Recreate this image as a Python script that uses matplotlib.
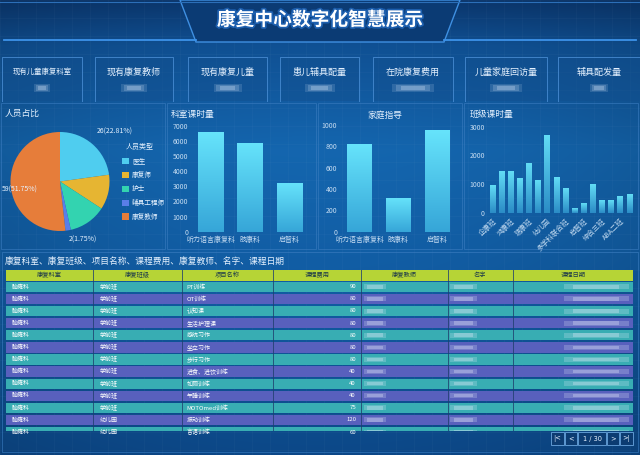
import numpy as np
import matplotlib
matplotlib.use("Agg")
import matplotlib.pyplot as plt
import matplotlib.patheffects as pe
from matplotlib.patches import Rectangle, Polygon
from matplotlib.colors import LinearSegmentedColormap, to_rgb

plt.rcParams['font.family'] = ['Noto Sans CJK SC', 'DejaVu Sans']

W, H = 640, 455

title = "康复中心数字化智慧展示"
card_labels = ["现有儿童康复科室", "现有康复教师", "现有康复儿童", "患儿辅具配量",
               "在院康复费用", "儿童家庭回访量", "辅具配发量"]

staff_types = ["医生", "康复师", "护士", "辅具工程师", "康复教师"]
staff_counts = [26, 13, 14, 2, 59]

dept_names = ["听力语言康复科", "肢康科", "启智科"]
dept_hours = [6580, 5900, 3250]
family_guidance = [820, 320, 950]

class_names = ["企康班", "企康二班", "鸿康班", "鸿康二班", "瑞康班", "瑞康二班", "幼儿园", "幼儿二班",
               "多学科联合班", "启智一班", "启智班", "综合二班", "综合三班", "ABA一班", "ABA二班", "ABA三班"]
class_hours = [950, 1440, 1460, 1210, 1720, 1130, 2710, 1250, 850, 150, 330, 1010, 450, 450, 570, 650]

table_title = "康复科室、康复班级、项目名称、课程费用、康复教师、名字、课程日期"
table_columns = ["康复科室", "康复班级", "项目名称", "课程费用", "康复教师", "名字", "课程日期"]
row_depts = ["脑瘫科"] * 13
row_classes = ["学前班"] * 11 + ["幼儿园"] * 2
row_items = ["PT训练", "OT训练", "认知课", "生活护理课", "感统习作", "坐立习作", "步行习作",
             "进食、进饮训练", "如厕训练", "午睡训练", "MOTOmed训练", "振动训练", "言语训练"]
row_fees = [90, 80, 80, 80, 80, 80, 80, 40, 40, 40, 75, 120, 60]
page_text = "1 / 30"

TXT = '#e6f2ff'
TICK = '#c5dcf2'


def px_rect(x0, y0, x1, y1):
    return [x0 / W, 1 - y1 / H, (x1 - x0) / W, (y1 - y0) / H]


def gradient_bars(ax, bars, top, bottom):
    grad = np.linspace(0, 1, 64).reshape(-1, 1)
    cmap = LinearSegmentedColormap.from_list('g', [bottom, top])
    for b in bars:
        x, y, w, h = b.get_x(), b.get_y(), b.get_width(), b.get_height()
        b.set_facecolor('none')
        b.set_edgecolor('none')
        im = ax.imshow(grad, extent=(x, x + w, y, y + h), origin='lower',
                       cmap=cmap, aspect='auto', zorder=2)
        im.set_clip_path(b)


def style_ax(ax):
    ax.patch.set_visible(False)
    for s in ax.spines.values():
        s.set_visible(False)
    ax.tick_params(colors=TICK, labelsize=5, length=0, pad=2)
    ax.tick_params(axis='x', pad=3)


fig = plt.figure(figsize=(W / 100, H / 100), dpi=100)

# background
bg = fig.add_axes([0, 0, 1, 1])
bg.set_xlim(0, W)
bg.set_ylim(H, 0)
bg.axis('off')

stops_y = [0, 45, 150, 300, 455]
stops_c = [to_rgb(c) for c in ['#0a3162', '#0e4884', '#125b9c', '#0f5190', '#0b4079']]
ys = np.arange(H)
col = np.stack([np.interp(ys, stops_y, [c[i] for c in stops_c]) for i in range(3)], axis=1)
xs = np.linspace(-1, 1, W)
hfac = 1.0 + 0.12 * (1 - xs ** 2)
img = np.clip(col[:, None, :] * hfac[None, :, None], 0, 1)
bg.imshow(img, extent=(0, W, H, 0), aspect='auto', zorder=0)
for gx in range(0, W, 18):
    bg.plot([gx, gx], [0, H], color='white', alpha=0.035, lw=0.5, zorder=1)
for gy in range(0, H, 18):
    bg.plot([0, W], [gy, gy], color='white', alpha=0.035, lw=0.5, zorder=1)

# title banner
bg.add_patch(Polygon([(180, 0), (460, 0), (444, 42), (196, 42)], closed=True,
                     facecolor='#0b3b74', edgecolor='#3f90e2', lw=1.0, zorder=2))
bg.plot([4, 196], [40, 40], color='#3d93ea', lw=1.3, zorder=2)
bg.plot([444, 636], [40, 40], color='#3d93ea', lw=1.3, zorder=2)
bg.plot([0, W], [2, 2], color='#2c6fb8', lw=0.8, zorder=2)
bg.text(320, 20, title, color='white', fontsize=13.5, fontweight='bold',
        ha='center', va='center', zorder=3,
        path_effects=[pe.withStroke(linewidth=2.5, foreground='#1d5fae')])

# stat cards
card_x = [(2, 82), (95, 173), (188, 267), (280, 359), (373, 453), (465, 547), (558, 640)]
blur_w = [16, 26, 28, 30, 42, 32, 18]
for (x0, x1), lab, bw in zip(card_x, card_labels, blur_w):
    bg.add_patch(Rectangle((x0, 57), x1 - x0, 44, facecolor='#124f8e', alpha=0.45,
                           edgecolor='none', zorder=2))
    bg.plot([x0, x0, x1, x1], [101, 57, 57, 101], color='#4b8fd6', lw=0.7, alpha=0.8, zorder=2)
    cx = (x0 + x1) / 2
    bg.text(cx, 72, lab, color=TXT, fontsize=5.3 if len(lab) > 7 else 6.5,
            ha='center', va='center', zorder=3)
    for k, a in [(1.0, 0.15), (0.8, 0.2), (0.55, 0.28)]:
        bg.add_patch(Rectangle((cx - bw * k / 2, 84 + (1 - k) * 4), bw * k, 8 - (1 - k) * 8,
                               facecolor='#d8e8fb', alpha=a, edgecolor='none', zorder=3))

# panels
for (x0, y0, x1, y1) in [(1, 103, 165, 249), (167, 103, 316, 249), (318, 103, 462, 249),
                         (464, 103, 638, 249), (2, 252, 638, 452)]:
    bg.add_patch(Rectangle((x0, y0), x1 - x0, y1 - y0, facecolor='none',
                           edgecolor='#3a7cc0', lw=0.6, alpha=0.7, zorder=2))

# pie
pie_colors = ['#4fcdef', '#e6b532', '#33d3b0', '#5a7ee8', '#e67d3a']
bg.text(5, 113, "人员占比", color=TXT, fontsize=6.3, va='center', zorder=3)
axp = fig.add_axes(px_rect(10.5, 132, 109.5, 231))
axp.pie(staff_counts, colors=pie_colors, startangle=90, counterclock=False, radius=1,
        wedgeprops=dict(edgecolor='none'))
axp.set_xlim(-1, 1)
axp.set_ylim(-1, 1)
axp.patch.set_visible(False)
total = sum(staff_counts)
pie_labels = [(0, 115, 132, 'center'), (4, 2, 190, 'left'), (3, 83, 240, 'center')]
for idx, lx, ly, ha in pie_labels:
    axp.text(lx, ly, f"{staff_counts[idx]}({staff_counts[idx] / total * 100:.2f}%)",
             transform=bg.transData, color=TXT, fontsize=5, ha=ha, va='center',
             zorder=10, clip_on=False)
bg.text(140, 147, "人员类型", color=TXT, fontsize=5, ha='center', va='center', zorder=3)
for i, (name, c) in enumerate(zip(staff_types, pie_colors)):
    yy = 161 + i * 13.9
    bg.add_patch(Rectangle((122, yy - 3.2), 6.5, 6.4, facecolor=c, edgecolor='none', zorder=3))
    bg.text(132, yy, name, color=TXT, fontsize=4.8, va='center', zorder=3)

# dept hours
bg.text(171, 114, "科室课时量", color=TXT, fontsize=6.3, va='center', zorder=3)
ax1 = fig.add_axes(px_rect(191, 126, 309, 231.7))
b1 = ax1.bar(range(len(dept_names)), dept_hours, width=0.64)
gradient_bars(ax1, b1, '#66e3fb', '#36a6d8')
ax1.set_xlim(-0.5, len(dept_names) - 0.5)
ax1.set_ylim(0, 7000)
ax1.set_yticks(range(0, 7001, 1000))
ax1.set_xticks(range(len(dept_names)))
ax1.set_xticklabels(dept_names, fontsize=4.3)
style_ax(ax1)

# family guidance
bg.text(385, 115, "家庭指导", color=TXT, fontsize=6.3, ha='center', va='center', zorder=3)
ax2 = fig.add_axes(px_rect(340, 125, 457, 231.7))
b2 = ax2.bar(range(len(dept_names)), family_guidance, width=0.64)
gradient_bars(ax2, b2, '#66e3fb', '#36a6d8')
ax2.set_xlim(-0.5, len(dept_names) - 0.5)
ax2.set_ylim(0, 1000)
ax2.set_yticks(range(0, 1001, 200))
ax2.set_xticks(range(len(dept_names)))
ax2.set_xticklabels(dept_names, fontsize=4.3)
style_ax(ax2)

# class hours
bg.text(470, 114, "班级课时量", color=TXT, fontsize=6.3, va='center', zorder=3)
ax3 = fig.add_axes(px_rect(487.7, 126.7, 633.6, 212.7))
b3 = ax3.bar(range(len(class_names)), class_hours, width=0.55)
gradient_bars(ax3, b3, '#62dcf5', '#2b8cc6')
ax3.set_xlim(-0.5, len(class_names) - 0.5)
ax3.set_ylim(0, 3000)
ax3.set_yticks(range(0, 3001, 1000))
ax3.set_xticks(range(0, len(class_names), 2))
ax3.set_xticklabels(class_names[::2], fontsize=4.3, rotation=45, ha='right',
                    rotation_mode='anchor')
style_ax(ax3)

# table
bg.text(5, 262.5, table_title, color=TXT, fontsize=6.3, va='center', zorder=3)
col_x = [6, 93.3, 181.7, 273.3, 361, 448, 512.7, 633]
bg.add_patch(Rectangle((col_x[0], 270), col_x[-1] - col_x[0], 10.7,
                       facecolor='#b6d436', edgecolor='none', zorder=3))
for i, name in enumerate(table_columns):
    bg.text((col_x[i] + col_x[i + 1]) / 2, 275.3, name, color='#1d3a4a', fontsize=4.5,
            ha='center', va='center', zorder=4)

clip = Rectangle((0, 268), W, 162.5, transform=bg.transData)
row_cols = ['#38adb3', '#5860bd']
for r in range(len(row_items)):
    y0 = 281.7 + r * 12.1
    yc = y0 + 5.1
    rect = Rectangle((col_x[0], y0), col_x[-1] - col_x[0], 10.3,
                     facecolor=row_cols[r % 2], edgecolor='none', zorder=3)
    bg.add_patch(rect)
    rect.set_clip_path(clip)
    arts = [
        bg.text(col_x[0] + 6, yc, row_depts[r], color='white', fontsize=4.3, va='center', zorder=4),
        bg.text(col_x[1] + 6, yc, row_classes[r], color='white', fontsize=4.3, va='center', zorder=4),
        bg.text(col_x[2] + 5, yc, row_items[r], color='white', fontsize=4.3, va='center', zorder=4),
        bg.text(col_x[4] - 5, yc, str(row_fees[r]), color='white', fontsize=4.3,
                ha='right', va='center', zorder=4),
    ]
    for (bx, bw) in [(col_x[4] + 3, 22), (col_x[5] + 2, 27), (col_x[6] + 51, 65)]:
        for k, a in [(1.0, 0.22), (0.7, 0.3)]:
            arts.append(bg.add_patch(Rectangle((bx + bw * (1 - k) / 2, yc - 2.5 * k), bw * k, 5 * k,
                                               facecolor='#e8eefc', alpha=a, edgecolor='none',
                                               zorder=4)))
    for a in arts:
        a.set_clip_path(clip)

for x in col_x[1:-1]:
    bg.plot([x, x], [270, 430], color='#1f3f6e', lw=0.7, alpha=0.8, zorder=4)

# pagination
btns = [(550.7, 564, "|<"), (565, 577.3, "<"), (578.3, 606, page_text),
        (606.7, 619, ">"), (620, 633, ">|")]
for x0, x1, t in btns:
    bg.add_patch(Rectangle((x0, 432.3), x1 - x0, 12.7, facecolor='#0c3c72',
                           edgecolor='#6aa6df', lw=0.6, zorder=3))
    bg.text((x0 + x1) / 2, 438.8, t, color=TXT, fontsize=4.8, ha='center', va='center',
            family='DejaVu Sans', zorder=4)

fig.savefig('out.png', dpi=100)
